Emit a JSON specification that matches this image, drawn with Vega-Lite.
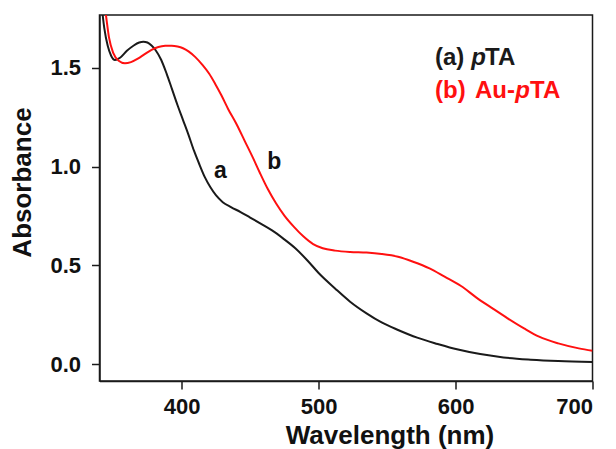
{
  "$schema": "https://vega.github.io/schema/vega-lite/v6.json",
  "width": 493,
  "height": 366,
  "autosize": {"type": "none"},
  "padding": {"left": 99.5, "top": 15, "right": 23.5, "bottom": 68},
  "background": "white",
  "config": {
    "view": {"stroke": "#1a1a1a", "strokeWidth": 1.5},
    "axis": {
      "grid": false,
      "domainColor": "#1a1a1a",
      "domainWidth": 1.5,
      "tickColor": "#1a1a1a",
      "tickWidth": 1.5,
      "tickSize": 8,
      "labelFont": "Liberation Sans",
      "labelFontWeight": "bold",
      "labelFontSize": 22,
      "labelColor": "#111",
      "titleFont": "Liberation Sans",
      "titleFontWeight": "bold",
      "titleFontSize": 26,
      "titleColor": "#111"
    }
  },
  "datasets": {
    "curves": [
      {"wl": 341, "A": 1.85, "s": "a"},
      {"wl": 343.5, "A": 1.7, "s": "a"},
      {"wl": 346, "A": 1.61, "s": "a"},
      {"wl": 348.5, "A": 1.56, "s": "a"},
      {"wl": 351.3, "A": 1.538, "s": "a"},
      {"wl": 355, "A": 1.55, "s": "a"},
      {"wl": 360, "A": 1.585, "s": "a"},
      {"wl": 365, "A": 1.612, "s": "a"},
      {"wl": 369, "A": 1.627, "s": "a"},
      {"wl": 372, "A": 1.631, "s": "a"},
      {"wl": 375, "A": 1.627, "s": "a"},
      {"wl": 378, "A": 1.612, "s": "a"},
      {"wl": 381, "A": 1.588, "s": "a"},
      {"wl": 385, "A": 1.54, "s": "a"},
      {"wl": 389, "A": 1.47, "s": "a"},
      {"wl": 393, "A": 1.39, "s": "a"},
      {"wl": 397, "A": 1.31, "s": "a"},
      {"wl": 401, "A": 1.235, "s": "a"},
      {"wl": 405, "A": 1.16, "s": "a"},
      {"wl": 409, "A": 1.08, "s": "a"},
      {"wl": 413, "A": 1.01, "s": "a"},
      {"wl": 417, "A": 0.945, "s": "a"},
      {"wl": 421, "A": 0.895, "s": "a"},
      {"wl": 425, "A": 0.855, "s": "a"},
      {"wl": 430, "A": 0.82, "s": "a"},
      {"wl": 436, "A": 0.795, "s": "a"},
      {"wl": 443, "A": 0.77, "s": "a"},
      {"wl": 450, "A": 0.742, "s": "a"},
      {"wl": 458, "A": 0.71, "s": "a"},
      {"wl": 466, "A": 0.677, "s": "a"},
      {"wl": 474, "A": 0.637, "s": "a"},
      {"wl": 483, "A": 0.587, "s": "a"},
      {"wl": 492, "A": 0.524, "s": "a"},
      {"wl": 500, "A": 0.462, "s": "a"},
      {"wl": 512, "A": 0.384, "s": "a"},
      {"wl": 523, "A": 0.317, "s": "a"},
      {"wl": 535, "A": 0.258, "s": "a"},
      {"wl": 546, "A": 0.212, "s": "a"},
      {"wl": 558, "A": 0.174, "s": "a"},
      {"wl": 572, "A": 0.135, "s": "a"},
      {"wl": 587, "A": 0.103, "s": "a"},
      {"wl": 601, "A": 0.076, "s": "a"},
      {"wl": 618, "A": 0.052, "s": "a"},
      {"wl": 635, "A": 0.035, "s": "a"},
      {"wl": 655, "A": 0.024, "s": "a"},
      {"wl": 675, "A": 0.017, "s": "a"},
      {"wl": 700, "A": 0.012, "s": "a"},
      {"wl": 342, "A": 1.9, "s": "b"},
      {"wl": 344.7, "A": 1.766, "s": "b"},
      {"wl": 347, "A": 1.65, "s": "b"},
      {"wl": 350, "A": 1.575, "s": "b"},
      {"wl": 354, "A": 1.535, "s": "b"},
      {"wl": 358.6, "A": 1.522, "s": "b"},
      {"wl": 363, "A": 1.528, "s": "b"},
      {"wl": 368, "A": 1.545, "s": "b"},
      {"wl": 373, "A": 1.568, "s": "b"},
      {"wl": 378, "A": 1.59, "s": "b"},
      {"wl": 383, "A": 1.604, "s": "b"},
      {"wl": 388, "A": 1.61, "s": "b"},
      {"wl": 392.7, "A": 1.611, "s": "b"},
      {"wl": 397, "A": 1.607, "s": "b"},
      {"wl": 401, "A": 1.598, "s": "b"},
      {"wl": 405, "A": 1.582, "s": "b"},
      {"wl": 410, "A": 1.553, "s": "b"},
      {"wl": 415, "A": 1.515, "s": "b"},
      {"wl": 420, "A": 1.47, "s": "b"},
      {"wl": 424.3, "A": 1.42, "s": "b"},
      {"wl": 429, "A": 1.36, "s": "b"},
      {"wl": 434, "A": 1.29, "s": "b"},
      {"wl": 440, "A": 1.215, "s": "b"},
      {"wl": 446, "A": 1.13, "s": "b"},
      {"wl": 452, "A": 1.045, "s": "b"},
      {"wl": 457, "A": 0.97, "s": "b"},
      {"wl": 463, "A": 0.885, "s": "b"},
      {"wl": 469, "A": 0.813, "s": "b"},
      {"wl": 475, "A": 0.752, "s": "b"},
      {"wl": 482, "A": 0.695, "s": "b"},
      {"wl": 489, "A": 0.646, "s": "b"},
      {"wl": 496, "A": 0.608, "s": "b"},
      {"wl": 503, "A": 0.587, "s": "b"},
      {"wl": 512, "A": 0.575, "s": "b"},
      {"wl": 523, "A": 0.568, "s": "b"},
      {"wl": 535, "A": 0.565, "s": "b"},
      {"wl": 546, "A": 0.558, "s": "b"},
      {"wl": 558, "A": 0.544, "s": "b"},
      {"wl": 569, "A": 0.519, "s": "b"},
      {"wl": 581, "A": 0.485, "s": "b"},
      {"wl": 592, "A": 0.443, "s": "b"},
      {"wl": 604, "A": 0.396, "s": "b"},
      {"wl": 615, "A": 0.339, "s": "b"},
      {"wl": 627, "A": 0.283, "s": "b"},
      {"wl": 638, "A": 0.233, "s": "b"},
      {"wl": 650, "A": 0.182, "s": "b"},
      {"wl": 661, "A": 0.14, "s": "b"},
      {"wl": 675, "A": 0.106, "s": "b"},
      {"wl": 690, "A": 0.081, "s": "b"},
      {"wl": 700, "A": 0.069, "s": "b"}
    ],
    "curveLabels": [
      {"wl": 428.3, "A": 0.975, "s": "a", "t": "a"},
      {"wl": 467.7, "A": 1.025, "s": "b", "t": "b"}
    ],
    "legendNormal": [
      {"wl": 585, "A": 1.55, "s": "a", "t": "(a)"},
      {"wl": 621.5, "A": 1.55, "s": "a", "t": "TA"},
      {"wl": 585, "A": 1.382, "s": "b", "t": "(b)"},
      {"wl": 614.2, "A": 1.382, "s": "b", "t": "Au-"},
      {"wl": 654.4, "A": 1.382, "s": "b", "t": "TA"}
    ],
    "legendItalic": [
      {"wl": 611.4, "A": 1.55, "s": "a", "t": "p"},
      {"wl": 643.6, "A": 1.382, "s": "b", "t": "p"}
    ]
  },
  "encoding": {
    "x": {
      "field": "wl",
      "type": "quantitative",
      "scale": {"domain": [340, 700], "nice": false, "zero": false},
      "axis": {
        "title": "Wavelength (nm)",
        "values": [400, 500, 600, 700],
        "labelPadding": 7,
        "titleX": 290,
        "titleY": 62,
        "titleAlign": "center",
        "titleBaseline": "alphabetic"
      }
    },
    "y": {
      "field": "A",
      "type": "quantitative",
      "scale": {"domain": [-0.084, 1.766], "nice": false, "zero": false},
      "axis": {
        "title": "Absorbance",
        "values": [0, 0.5, 1, 1.5],
        "format": ".1f",
        "labelPadding": 11,
        "titleX": -77,
        "titleY": 167,
        "titleAngle": -90,
        "titleAlign": "center",
        "titleBaseline": "middle"
      }
    },
    "color": {
      "field": "s",
      "type": "nominal",
      "scale": {"domain": ["a", "b"], "range": ["#1a1a1a", "#ff1010"]},
      "legend": null
    }
  },
  "layer": [
    {
      "data": {"name": "curves"},
      "mark": {"type": "line", "strokeWidth": 2, "clip": true, "interpolate": "monotone"},
      "encoding": {"detail": {"field": "s"}}
    },
    {
      "data": {"name": "curveLabels"},
      "mark": {"type": "text", "font": "Liberation Sans", "fontWeight": "bold", "fontSize": 23, "align": "center", "baseline": "middle"},
      "encoding": {"text": {"field": "t"}, "color": {"value": "#111"}}
    },
    {
      "data": {"name": "legendNormal"},
      "mark": {"type": "text", "font": "Liberation Sans", "fontWeight": "bold", "fontSize": 24, "align": "left", "baseline": "middle"},
      "encoding": {"text": {"field": "t"}}
    },
    {
      "data": {"name": "legendItalic"},
      "mark": {"type": "text", "font": "Liberation Sans", "fontWeight": "bold", "fontStyle": "italic", "fontSize": 24, "align": "left", "baseline": "middle"},
      "encoding": {"text": {"field": "t"}}
    }
  ]
}
